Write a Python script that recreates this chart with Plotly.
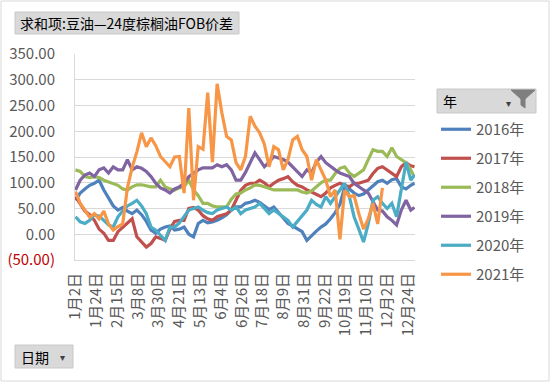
import pandas as pd
import plotly.graph_objects as go

# ---------------- data ----------------
# category axis: every calendar day (union over years) from 1/2 to 12/31, no Oct 1-5
_days = pd.date_range("2016-01-02", "2016-12-31", freq="D")
_days = [d for d in _days if not (d.month == 10 and d.day <= 5)]
categories = [f"{d.month}月{d.day}日" for d in _days]

tick_labels = ["1月2日", "1月24日", "2月15日", "3月8日", "3月30日", "4月21日", "5月13日",
               "6月4日", "6月26日", "7月18日", "8月9日", "8月31日", "9月22日", "10月19日",
               "11月10日", "12月2日", "12月24日"]

sample_dates = [categories[i] for i in list(range(0, 360, 5)) + [359]]

s2016 = [66, 80, 88, 95, 99, 105, 86, 70, 55, 47, 52, 45, 40, 47, 38, 25, 8, 2, 10, 14,
         16, 8, 10, 14, 0, -5, 21, 27, 22, 24, 27, 32, 38, 47, 53, 53, 60, 62, 66, 62,
         55, 48, 53, 42, 30, 21, 16, 10, 5, -12, -2, 6, 14, 20, 30, 42, 58, 92, 88, 80,
         75, 78, 86, 95, 102, 105, 99, 106, 108, 92, 88, 95, 99]
s2017 = [73, 58, 45, 38, 27, 10, 2, -12, -12, 5, 14, 21, 30, -5, -15, -25, -18, -5, -8, -12,
         10, 25, 27, 27, 50, 52, 47, 36, 30, 27, 34, 37, 40, 47, 65, 85, 95, 99, 99, 105,
         100, 92, 99, 105, 108, 112, 102, 95, 92, 86, 82, 78, 73, 80, 90, 95, 99, 95, 92, 99,
         99, 102, 105, 118, 128, 131, 125, 118, 112, 131, 139, 133, 131]
s2018 = [125, 122, 112, 110, 112, 110, 105, 102, 99, 95, 88, 86, 92, 96, 96, 94, 92, 92, 105, 92,
         88, 86, 90, 92, 105, 86, 75, 60, 60, 55, 53, 53, 53, 68, 78, 80, 86, 90, 96, 95,
         92, 90, 86, 86, 86, 86, 86, 86, 82, 80, 84, 92, 100, 105, 105, 118, 128, 131, 119, 112,
         118, 125, 145, 164, 161, 161, 151, 168, 151, 145, 139, 125, 110]
s2019 = [86, 105, 115, 119, 112, 125, 129, 119, 131, 125, 125, 145, 125, 131, 128, 122, 112, 99, 90, 86,
         80, 88, 92, 99, 112, 118, 125, 129, 129, 129, 135, 131, 135, 125, 105, 105, 120, 140, 158, 145,
         131, 140, 151, 148, 145, 140, 131, 120, 112, 125, 119, 140, 151, 139, 131, 125, 119, 115, 112, 99,
         92, 86, 80, 62, 47, 45, 34, 27, 18, 47, 66, 47, 52]
s2020 = [34, 24, 21, 27, 38, 35, 27, 18, 14, 34, 45, 55, 60, 66, 55, 40, 14, 8, -2, -12,
         14, 14, 22, 34, 47, 50, 53, 47, 42, 40, 47, 50, 53, 47, 53, 40, 47, 50, 53, 60,
         50, 40, 47, 40, 34, 27, 14, 25, 34, 47, 66, 58, 53, 73, 60, 73, 85, 99, 73, 34,
         10, -15, 20, 66, 73, 60, 50, 60, 34, 92, 140, 105, 115]
s2021 = [83, 60, 47, 33, 40, 30, 45, 20, 8, 15, 20, 90, 130, 160, 197, 170, 187, 172, 151, 140,
         131, 150, 151, 80, 245, 66, 170, 165, 275, 140, 292, 236, 190, 183, 139, 125, 151, 229, 210, 197,
         175, 131, 170, 164, 125, 145, 183, 190, 164, 151, 105, 145, 125, 105, 73, 86, -10, 85, 73, 75,
         40, 10, 30, 60, 20, 90]

series_names = ["2016年", "2017年", "2018年", "2019年", "2020年", "2021年"]
series_values = [s2016, s2017, s2018, s2019, s2020, s2021]
colors = ["#4F81BD", "#C0504D", "#9BBB59", "#8064A2", "#4BACC6", "#F79646"]

y_ticks = [-50, 0, 50, 100, 150, 200, 250, 300, 350]

# ---------------- figure ----------------
W, H = 550, 382
L, R, T, B = 75, 415, 54, 260


def px(x):
    return (x - L) / (R - L)


def py(y):
    return (B - y) / (B - T)


fig = go.Figure()
for name, vals, col in zip(series_names, series_values, colors):
    fig.add_trace(go.Scatter(
        x=sample_dates[:len(vals)], y=vals, name=name, mode="lines",
        line=dict(color=col, width=3.2, shape="linear"),
        legendgroup=name,
    ))

font_main = "Noto Sans CJK SC, Microsoft YaHei, sans-serif"

y_text = []
for v in y_ticks:
    if v < 0:
        y_text.append(f"<span style='color:#C00000'>({abs(v):.2f})</span>")
    else:
        y_text.append(f"{v:.2f}")

fig.update_layout(
    width=W, height=H,
    margin=dict(l=L, r=W - R, t=T, b=H - B, autoexpand=False),
    paper_bgcolor="white", plot_bgcolor="white",
    font=dict(family=font_main, size=15, color="#595959"),
    showlegend=True,
    legend=dict(
        x=px(436), xanchor="left", y=py(113), yanchor="top",
        font=dict(size=15, color="#595959"),
        tracegroupgap=6.5, bgcolor="rgba(0,0,0,0)",
    ),
    xaxis=dict(
        type="category", categoryorder="array", categoryarray=categories,
        range=[-0.5, len(categories) - 0.5],
        tickmode="array", tickvals=tick_labels, ticktext=tick_labels,
        tickangle=-90, showgrid=False, showline=True, linecolor="#D9D9D9", linewidth=1,
        ticks="", ticklabelstandoff=6, zeroline=False,
        tickfont=dict(size=15, color="#595959"),
    ),
    yaxis=dict(
        range=[-50, 350], tickmode="array", tickvals=y_ticks, ticktext=y_text,
        showgrid=True, gridcolor="#D9D9D9", gridwidth=1,
        showline=True, linecolor="#D9D9D9", linewidth=1, zeroline=False,
        ticks="", ticklabelstandoff=16,
        tickfont=dict(size=15, color="#595959"),
    ),
)

shapes = []
annos = []
# outer chart border
shapes.append(dict(type="rect", xref="paper", yref="paper",
                   x0=px(1), x1=px(549), y0=py(1), y1=py(381),
                   line=dict(color="#D9D9D9", width=1), layer="below"))
# title button
shapes.append(dict(type="rect", xref="paper", yref="paper",
                   x0=px(15), x1=px(239), y0=py(12), y1=py(34),
                   fillcolor="#D9D9D9", line=dict(color="#C8C8C8", width=1), layer="below"))
annos.append(dict(xref="paper", yref="paper", x=px(18), y=py(23.5), xanchor="left", yanchor="middle",
                  text="求和项:豆油—24度棕榈油FOB价差", showarrow=False,
                  font=dict(family=font_main, size=14, color="#000000")))
# legend header button "年"
shapes.append(dict(type="rect", xref="paper", yref="paper",
                   x0=px(437), x1=px(536), y0=py(89), y1=py(113),
                   fillcolor="#D9D9D9", line=dict(color="#C8C8C8", width=1), layer="below"))
annos.append(dict(xref="paper", yref="paper", x=px(441), y=py(101), xanchor="left", yanchor="middle",
                  text="年", showarrow=False, font=dict(family=font_main, size=14, color="#000000")))
annos.append(dict(xref="paper", yref="paper", x=px(508), y=py(103), xanchor="center", yanchor="middle",
                  text="▾", showarrow=False, font=dict(family="DejaVu Sans", size=10, color="#404040")))
# funnel icon
fx = [511, 535, 525, 525, 521, 521]
fy = [90, 90, 99, 108, 105, 99]
path = "M " + " L ".join(f"{px(a)},{py(b)}" for a, b in zip(fx, fy)) + " Z"
shapes.append(dict(type="path", xref="paper", yref="paper", path=path,
                   fillcolor="#7F7F7F", line=dict(color="#7F7F7F", width=1)))
# "日期" button
shapes.append(dict(type="rect", xref="paper", yref="paper",
                   x0=px(15), x1=px(73), y0=py(345), y1=py(368),
                   fillcolor="#D9D9D9", line=dict(color="#C8C8C8", width=1), layer="below"))
annos.append(dict(xref="paper", yref="paper", x=px(19), y=py(356.5), xanchor="left", yanchor="middle",
                  text="日期", showarrow=False, font=dict(family=font_main, size=14, color="#000000")))
annos.append(dict(xref="paper", yref="paper", x=px(62), y=py(357), xanchor="center", yanchor="middle",
                  text="▾", showarrow=False, font=dict(family="DejaVu Sans", size=10, color="#404040")))

fig.update_layout(shapes=shapes, annotations=annos)
fig.write_html("out.html", config={"displayModeBar": False},
               post_script="document.body.style.margin='0';document.body.style.padding='0';")
